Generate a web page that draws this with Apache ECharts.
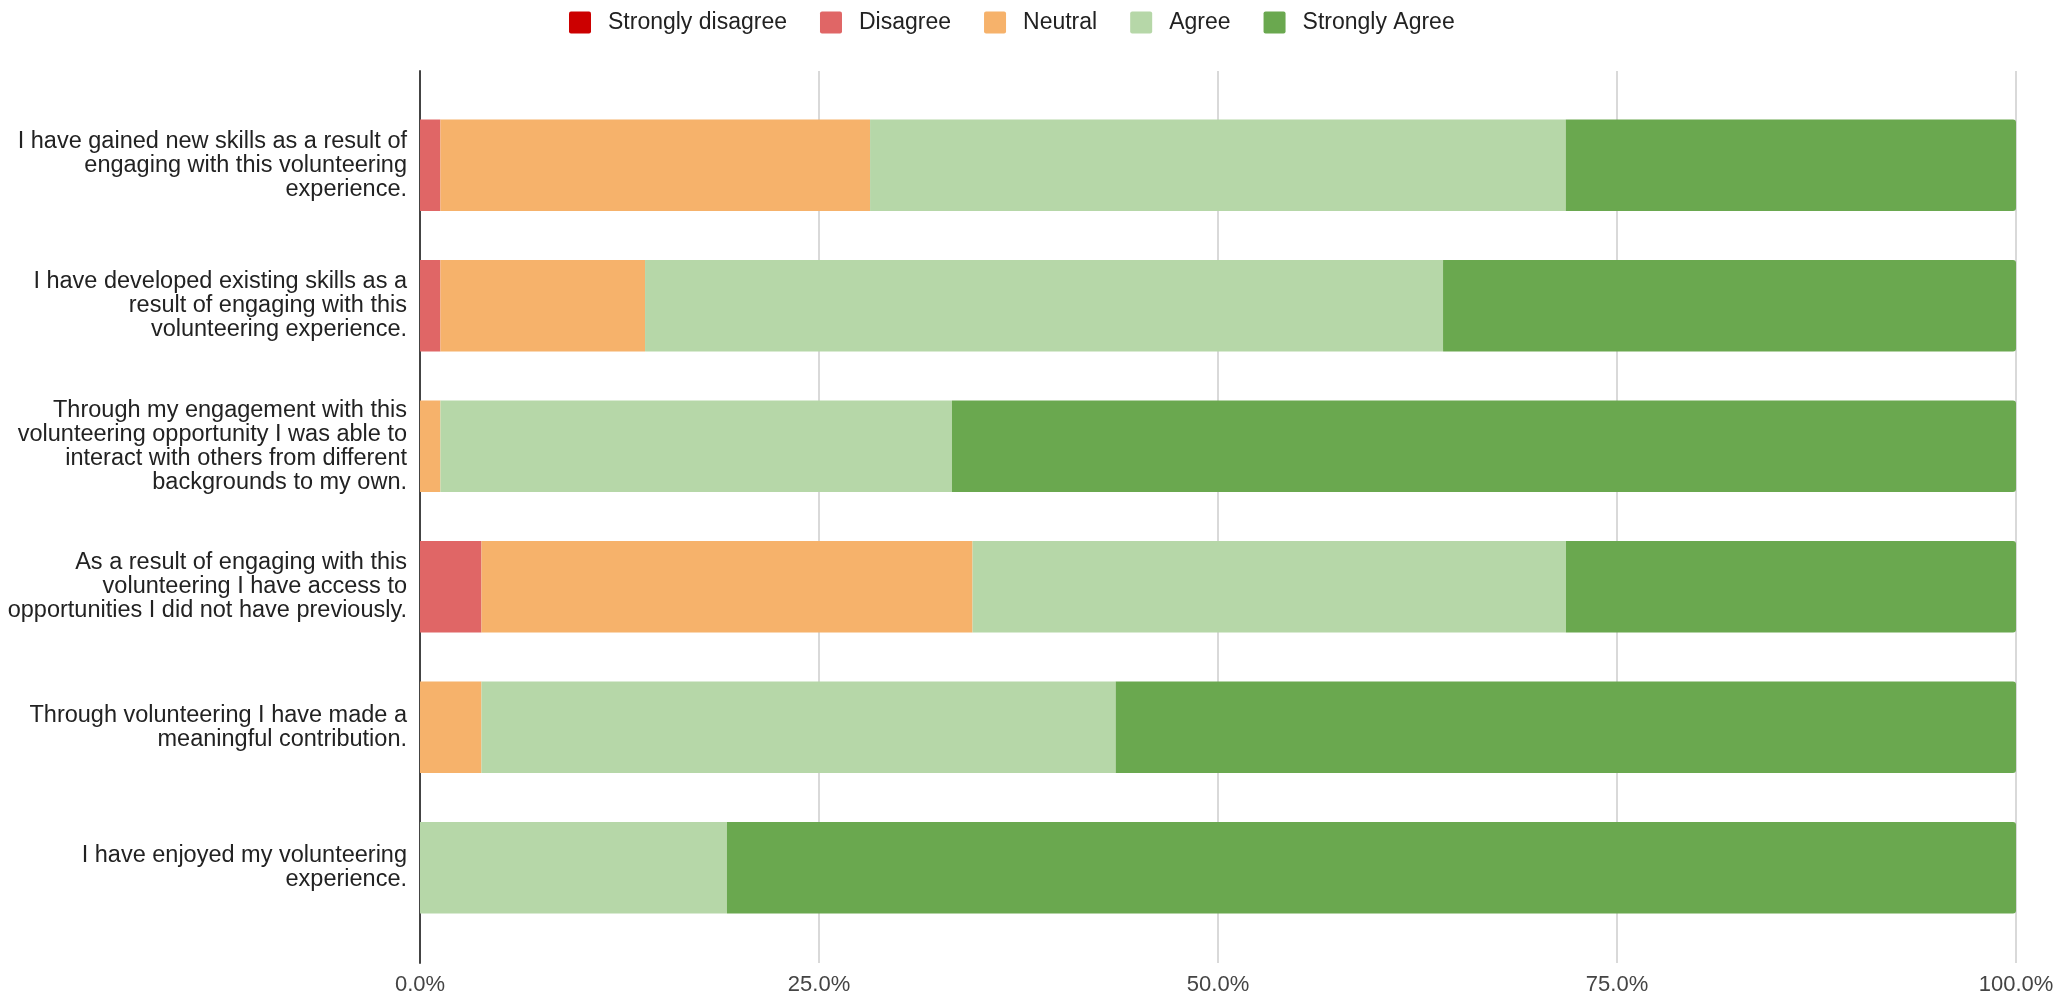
<!DOCTYPE html>
<html>
<head>
<meta charset="utf-8">
<script src="https://cdn.jsdelivr.net/npm/echarts@6/dist/echarts.min.js"></script>
<style>html,body{margin:0;padding:0;background:#fff}#c{width:2062px;height:1001px}</style>
</head>
<body>
<div id="c"></div>
<script>
var categories = [
  "I have gained new skills as a result of\nengaging with this volunteering\nexperience.",
  "I have developed existing skills as a\nresult of engaging with this\nvolunteering experience.",
  "Through my engagement with this\nvolunteering opportunity I was able to\ninteract with others from different\nbackgrounds to my own.",
  "As a result of engaging with this\nvolunteering I have access to\nopportunities I did not have previously.",
  "Through volunteering I have made a\nmeaningful contribution.",
  "I have enjoyed my volunteering\nexperience."
];
var seriesNames = ["Strongly disagree", "Disagree", "Neutral", "Agree", "Strongly Agree"];
var stronglyDisagree = [0, 0, 0, 0, 0, 0];
var disagree = [1.28, 1.28, 0, 3.85, 0, 0];
var neutral = [26.92, 12.82, 1.28, 30.77, 3.85, 0];
var agree = [43.59, 50.0, 32.05, 37.18, 39.74, 19.23];
var stronglyAgree = [28.21, 35.9, 66.67, 28.21, 56.41, 80.77];
var tickValues = [0, 25, 50, 75, 100];

var colors = ["#cc0000", "#e06666", "#f6b26b", "#b6d7a8", "#6aa84f"];
var allData = [stronglyDisagree, disagree, neutral, agree, stronglyAgree];
var FONT = "Arial";

var series = seriesNames.map(function (name, i) {
  return {
    name: name,
    type: "bar",
    stack: "total",
    xAxisIndex: 1,
    yAxisIndex: 1,
    barWidth: "65%",
    itemStyle: { color: colors[i], borderRadius: i === 4 ? [0, 3, 3, 0] : 0 },
    emphasis: { disabled: true },
    data: allData[i]
  };
});

var chart = echarts.init(document.getElementById("c"), null, { renderer: "canvas" });
chart.setOption({
  animation: false,
  color: colors,
  legend: {
    top: 6,
    left: 564,
    itemWidth: 22,
    itemHeight: 22,
    itemGap: 33,
    icon: "path://M2,0 L20,0 Q22,0 22,2 L22,20 Q22,22 20,22 L2,22 Q0,22 0,20 L0,2 Q0,0 2,0 Z",
    textStyle: { fontFamily: FONT, fontSize: 23, color: "#222", padding: [0, 0, 0, 12] },
    data: seriesNames
  },
  grid: [
    { left: 420, right: 46, top: 71, bottom: 38 },
    { left: 420, right: 46, top: 95, bottom: 63 }
  ],
  xAxis: [
    {
      gridIndex: 0,
      type: "value",
      min: tickValues[0],
      max: tickValues[tickValues.length - 1],
      interval: 25,
      axisLine: { show: false },
      axisTick: { show: false },
      splitLine: { show: true, lineStyle: { color: "#cccccc", width: 1.5 } },
      axisLabel: {
        fontFamily: FONT, fontSize: 22, color: "#444", margin: 11,
        formatter: function (v) { return v.toFixed(1) + "%"; }
      }
    },
    {
      gridIndex: 1,
      type: "value",
      min: 0,
      max: 100,
      show: false
    }
  ],
  yAxis: [
    {
      gridIndex: 0,
      type: "value",
      min: 0,
      max: 1,
      axisLine: { show: true, onZero: false, lineStyle: { color: "#444", width: 2 } },
      axisTick: { show: false },
      axisLabel: { show: false },
      splitLine: { show: false }
    },
    {
      gridIndex: 1,
      type: "category",
      inverse: true,
      data: categories,
      axisLine: { show: false },
      axisTick: { show: false },
      splitLine: { show: false },
      axisLabel: {
        fontFamily: FONT, fontSize: 23.5, color: "#222", margin: 13,
        lineHeight: 24, align: "right"
      }
    }
  ],
  series: series
});
</script>
</body>
</html>
